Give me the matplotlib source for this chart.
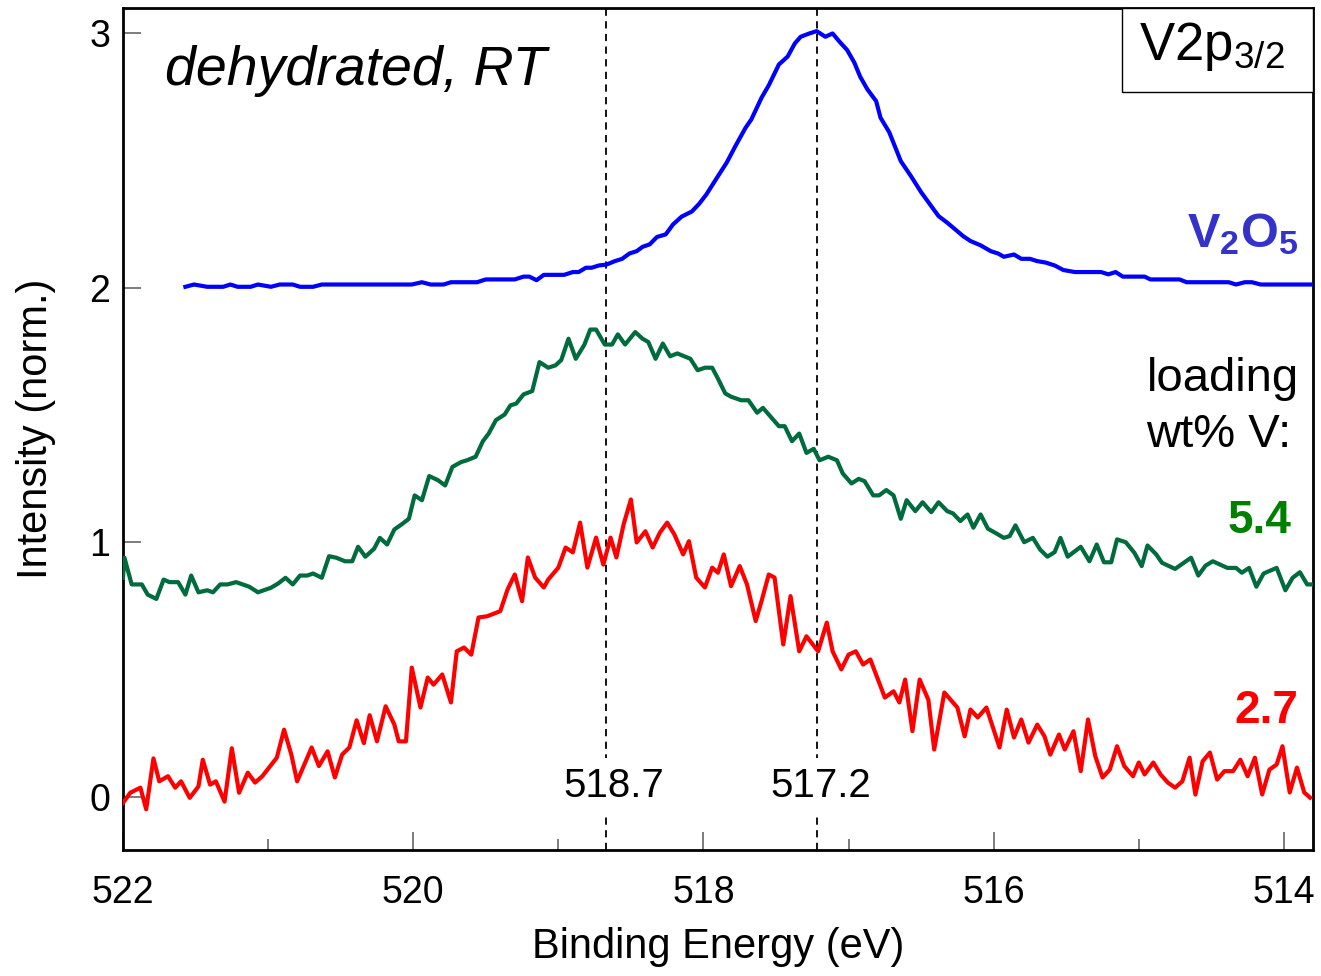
import matplotlib
matplotlib.use("Agg")
import matplotlib.pyplot as plt
from matplotlib.patches import Rectangle
from matplotlib.ticker import MultipleLocator

plt.rcParams['font.family'] = ['Liberation Sans', 'DejaVu Sans']
plt.rcParams['mathtext.fontset'] = 'custom'
plt.rcParams['mathtext.rm'] = 'Liberation Sans'
plt.rcParams['mathtext.it'] = 'Liberation Sans:italic'
plt.rcParams['mathtext.bf'] = 'Liberation Sans:bold'

# 2.7 wt% V spectrum (offset 0)
red_energy = [522.00, 521.95, 521.88, 521.84, 521.79, 521.75, 521.69, 521.64, 521.60, 521.54,
              521.48, 521.45, 521.40, 521.36, 521.30, 521.25, 521.20, 521.14, 521.09, 521.04,
              520.94, 520.89, 520.84, 520.80, 520.75, 520.70, 520.65, 520.59, 520.54, 520.49,
              520.44, 520.39, 520.34, 520.30, 520.25, 520.19, 520.13, 520.10, 520.05, 520.01,
              519.95, 519.90, 519.86, 519.80, 519.74, 519.70, 519.65, 519.60, 519.55, 519.49,
              519.40, 519.35, 519.30, 519.25, 519.21, 519.16, 519.10, 519.07, 519.00, 518.95,
              518.90, 518.85, 518.80, 518.74, 518.69, 518.64, 518.60, 518.55, 518.50, 518.46,
              518.40, 518.35, 518.30, 518.25, 518.20, 518.14, 518.10, 518.05, 517.99, 517.94,
              517.90, 517.86, 517.81, 517.75, 517.70, 517.64, 517.60, 517.55, 517.51, 517.45,
              517.40, 517.34, 517.29, 517.21, 517.15, 517.11, 517.05, 517.00, 516.95, 516.90,
              516.85, 516.75, 516.69, 516.65, 516.61, 516.56, 516.51, 516.45, 516.41, 516.34,
              516.25, 516.20, 516.16, 516.11, 516.05, 515.96, 515.91, 515.86, 515.81, 515.76,
              515.70, 515.65, 515.61, 515.55, 515.51, 515.45, 515.40, 515.35, 515.30, 515.25,
              515.20, 515.15, 515.10, 515.04, 515.00, 514.96, 514.90, 514.85, 514.80, 514.75,
              514.70, 514.65, 514.61, 514.56, 514.51, 514.46, 514.41, 514.35, 514.30, 514.25,
              514.20, 514.15, 514.10, 514.05, 514.01, 513.96, 513.91, 513.86, 513.82]
red_intensity = [-0.025, 0.015, 0.035, -0.05, 0.15, 0.06, 0.08, 0.035, 0.06, -0.005,
                 0.04, 0.145, 0.047, 0.06, -0.02, 0.19, 0.015, 0.094, 0.055, 0.08,
                 0.153, 0.263, 0.165, 0.06, 0.126, 0.193, 0.12, 0.178, 0.075, 0.165,
                 0.193, 0.30, 0.21, 0.32, 0.217, 0.355, 0.283, 0.217, 0.217, 0.507,
                 0.35, 0.468, 0.44, 0.48, 0.37, 0.571, 0.586, 0.558, 0.704, 0.709,
                 0.729, 0.814, 0.873, 0.768, 0.94, 0.861, 0.822, 0.853, 0.90, 0.979,
                 0.96, 1.077, 0.90, 1.018, 0.912, 1.018, 0.94, 1.07, 1.168, 0.999,
                 1.043, 0.979, 1.038, 1.077, 1.03, 0.952, 1.004, 0.861, 0.822, 0.90,
                 0.88, 0.952, 0.827, 0.906, 0.834, 0.69, 0.768, 0.873, 0.861, 0.598,
                 0.788, 0.571, 0.63, 0.571, 0.684, 0.571, 0.50, 0.558, 0.571, 0.519,
                 0.539, 0.389, 0.414, 0.37, 0.46, 0.257, 0.46, 0.38, 0.185, 0.409,
                 0.35, 0.237, 0.342, 0.311, 0.35, 0.193, 0.342, 0.232, 0.303, 0.212,
                 0.283, 0.237, 0.165, 0.244, 0.185, 0.257, 0.10, 0.303, 0.159, 0.075,
                 0.106, 0.198, 0.12, 0.08, 0.134, 0.087, 0.134, 0.087, 0.055, 0.035,
                 0.06, 0.153, 0.008, 0.139, 0.173, 0.067, 0.10, 0.10, 0.145, 0.08,
                 0.153, 0.008, 0.106, 0.126, 0.198, 0.016, 0.114, 0.016, -0.004]

# 5.4 wt% V spectrum (offset ~0.8)
green_energy = [522.00, 521.99, 521.94, 521.87, 521.83, 521.77, 521.72, 521.68, 521.62, 521.57,
                521.53, 521.48, 521.42, 521.38, 521.33, 521.28, 521.22, 521.13, 521.07, 520.98,
                520.93, 520.88, 520.83, 520.78, 520.73, 520.69, 520.63, 520.58, 520.53, 520.47,
                520.42, 520.38, 520.33, 520.27, 520.23, 520.18, 520.13, 520.08, 520.03, 519.99,
                519.94, 519.89, 519.83, 519.78, 519.73, 519.67, 519.63, 519.57, 519.52, 519.48,
                519.43, 519.37, 519.33, 519.29, 519.24, 519.18, 519.13, 519.07, 519.02, 518.98,
                518.93, 518.88, 518.82, 518.78, 518.74, 518.68, 518.63, 518.59, 518.54, 518.47,
                518.42, 518.38, 518.33, 518.28, 518.23, 518.18, 518.09, 518.04, 517.99, 517.94,
                517.90, 517.85, 517.81, 517.74, 517.69, 517.63, 517.59, 517.53, 517.48, 517.44,
                517.39, 517.34, 517.29, 517.24, 517.20, 517.14, 517.08, 517.04, 516.98, 516.93,
                516.89, 516.83, 516.79, 516.74, 516.69, 516.64, 516.60, 516.54, 516.49, 516.43,
                516.38, 516.32, 516.28, 516.23, 516.18, 516.14, 516.09, 516.04, 515.98, 515.93,
                515.89, 515.85, 515.79, 515.73, 515.68, 515.63, 515.58, 515.54, 515.49, 515.40,
                515.34, 515.29, 515.24, 515.19, 515.15, 515.09, 515.03, 514.98, 514.94, 514.88,
                514.84, 514.75, 514.64, 514.59, 514.54, 514.49, 514.39, 514.33, 514.29, 514.24,
                514.19, 514.14, 514.05, 513.99, 513.94, 513.89, 513.84, 513.81]
green_intensity = [0.86, 0.939, 0.834, 0.834, 0.794, 0.777, 0.853, 0.843, 0.843, 0.794,
                   0.869, 0.803, 0.811, 0.803, 0.834, 0.834, 0.843, 0.825, 0.803, 0.821,
                   0.838, 0.86, 0.834, 0.869, 0.869, 0.877, 0.86, 0.945, 0.939, 0.925,
                   0.925, 0.982, 0.943, 0.974, 1.017, 0.991, 1.05, 1.07, 1.092, 1.184,
                   1.165, 1.26, 1.244, 1.223, 1.296, 1.315, 1.322, 1.336, 1.397, 1.427,
                   1.48, 1.502, 1.538, 1.545, 1.581, 1.594, 1.708, 1.686, 1.695, 1.716,
                   1.80, 1.721, 1.777, 1.836, 1.836, 1.777, 1.777, 1.817, 1.777, 1.826,
                   1.80, 1.787, 1.721, 1.781, 1.731, 1.742, 1.721, 1.676, 1.686, 1.686,
                   1.643, 1.585, 1.572, 1.558, 1.558, 1.509, 1.528, 1.489, 1.456, 1.456,
                   1.397, 1.427, 1.351, 1.367, 1.322, 1.336, 1.322, 1.27, 1.231, 1.249,
                   1.24, 1.184, 1.184, 1.205, 1.184, 1.092, 1.165, 1.122, 1.157, 1.118,
                   1.157, 1.122, 1.113, 1.083, 1.109, 1.057, 1.109, 1.053, 1.034, 1.017,
                   1.024, 1.066, 1.0, 1.017, 0.971, 0.943, 0.961, 1.017, 0.943, 0.982,
                   0.925, 0.991, 0.921, 0.921, 1.011, 1.0, 0.958, 0.906, 0.987, 0.952,
                   0.919, 0.895, 0.939, 0.869, 0.908, 0.925, 0.899, 0.899, 0.88, 0.899,
                   0.825, 0.877, 0.899, 0.811, 0.86, 0.882, 0.834, 0.834]

# V2O5 reference spectrum (offset 2)
blue_energy = [521.57, 521.51, 521.42, 521.31, 521.26, 521.21, 521.12, 521.07, 520.98, 520.92,
               520.83, 520.78, 520.69, 520.63, 520.01, 519.94, 519.88, 519.79, 519.74, 519.56,
               519.50, 519.30, 519.24, 519.20, 519.15, 519.10, 518.96, 518.90, 518.86, 518.81,
               518.77, 518.72, 518.67, 518.61, 518.56, 518.51, 518.46, 518.42, 518.37, 518.32,
               518.26, 518.21, 518.15, 518.08, 518.03, 517.98, 517.90, 517.84, 517.78, 517.71,
               517.67, 517.60, 517.55, 517.48, 517.42, 517.37, 517.33, 517.27, 517.22, 517.16,
               517.11, 517.06, 517.01, 516.96, 516.92, 516.87, 516.81, 516.78, 516.72, 516.68,
               516.64, 516.57, 516.50, 516.43, 516.38, 516.32, 516.27, 516.21, 516.16, 516.09,
               516.02, 515.97, 515.93, 515.86, 515.81, 515.75, 515.70, 515.64, 515.58, 515.52,
               515.44, 515.26, 515.21, 515.16, 515.11, 514.96, 514.92, 514.72, 514.67, 514.38,
               514.33, 514.27, 514.22, 514.16, 513.81]
blue_intensity = [2.004, 2.013, 2.004, 2.004, 2.013, 2.004, 2.004, 2.013, 2.004, 2.013,
                  2.013, 2.004, 2.004, 2.013, 2.013, 2.022, 2.013, 2.013, 2.022, 2.022,
                  2.033, 2.033, 2.044, 2.044, 2.03, 2.051, 2.051, 2.062, 2.062, 2.079,
                  2.079, 2.088, 2.091, 2.105, 2.114, 2.135, 2.144, 2.161, 2.171, 2.20,
                  2.21, 2.249, 2.28, 2.30, 2.33, 2.367, 2.439, 2.492, 2.557, 2.629,
                  2.662, 2.747, 2.796, 2.878, 2.909, 2.961, 2.987, 3.0, 3.009, 2.987,
                  3.0, 2.966, 2.935, 2.885, 2.83, 2.78, 2.734, 2.669, 2.612, 2.555,
                  2.498, 2.439, 2.376, 2.321, 2.282, 2.256, 2.232, 2.203, 2.184, 2.167,
                  2.144, 2.135, 2.122, 2.131, 2.114, 2.114, 2.105, 2.099, 2.088, 2.07,
                  2.062, 2.062, 2.053, 2.062, 2.044, 2.044, 2.033, 2.033, 2.022, 2.022,
                  2.013, 2.022, 2.022, 2.013, 2.013]

peak_positions = [518.67, 517.215]
peak_labels = ['518.7', '517.2']
x_ticks = [522, 520, 518, 516, 514]
y_ticks = [0, 1, 2, 3]

fig = plt.figure(figsize=(13.21, 9.76), dpi=100)
ax = fig.add_axes([0.0931, 0.1291, 0.9008, 0.8627])

ax.plot(red_energy, red_intensity, color='#ff0000', lw=3, zorder=3)
ax.plot(green_energy, green_intensity, color='#006b3c', lw=3, zorder=3)
ax.plot(blue_energy, blue_intensity, color='#0000ff', lw=3, zorder=3)

for pos in peak_positions:
    ax.axvline(pos, color='black', lw=1.3, dashes=(4, 3), zorder=2)

label_x = [518.62, 517.19]
for lx, lab in zip(label_x, peak_labels):
    ax.text(lx, 0.0, lab, fontsize=29, ha='center', va='baseline', zorder=4,
            bbox=dict(facecolor='white', edgecolor='none', pad=6))

ax.set_xlim(522, 513.8)
ax.set_ylim(-0.21, 3.1)
ax.set_xticks(x_ticks)
ax.set_yticks(y_ticks)
ax.xaxis.set_minor_locator(MultipleLocator(1))
ax.tick_params(axis='both', which='both', direction='in', color='#666666', labelsize=27)
ax.tick_params(axis='both', which='major', length=13, width=1.2)
ax.tick_params(axis='x', which='minor', length=8, width=1.2)
ax.tick_params(axis='x', which='both', pad=18)
ax.tick_params(axis='y', which='both', pad=9)
for sp in ax.spines.values():
    sp.set_linewidth(2)

ax.set_xlabel('Binding Energy (eV)', fontsize=30)
ax.set_ylabel('Intensity (norm.)', fontsize=30)
ax.xaxis.set_label_coords(0.5, -0.092)
ax.yaxis.set_label_coords(-0.056, 0.5)

ax.text(0.035, 0.909, 'dehydrated, RT', transform=ax.transAxes, fontsize=40,
        style='italic', ha='left', va='baseline')

ax.add_patch(Rectangle((0.8395, 0.9), 0.1605, 0.1, transform=ax.transAxes,
                       facecolor='white', edgecolor='black', lw=1, zorder=5, clip_on=False))
ax.text(0.854, 0.938, r'V2p$_{\mathrm{3/2}}$', transform=ax.transAxes, fontsize=38,
        ha='left', va='baseline', zorder=6)

ax.text(0.988, 0.716, r'$\mathbf{V_2O_5}$', transform=ax.transAxes, fontsize=35,
        color='#3333cc', ha='right', va='baseline')
ax.text(0.988, 0.479, 'loading\nwt% V:', transform=ax.transAxes, fontsize=34,
        ha='right', va='baseline', multialignment='left', linespacing=1.34)
ax.text(0.982, 0.377, '5.4', transform=ax.transAxes, fontsize=33, fontweight='bold',
        color='#008000', ha='right', va='baseline')
ax.text(0.988, 0.151, '2.7', transform=ax.transAxes, fontsize=33, fontweight='bold',
        color='#ff0000', ha='right', va='baseline')

fig.savefig('out.png', dpi=100)
